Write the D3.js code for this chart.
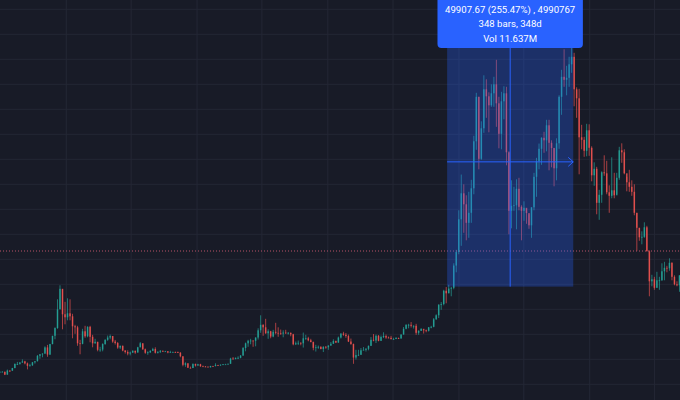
<!DOCTYPE html>
<html>
<head>
<meta charset="utf-8">
<script src="https://cdn.jsdelivr.net/npm/d3@7"></script>
<style>
  html, body { margin: 0; padding: 0; background: #181b27; }
  svg { display: block; }
</style>
</head>
<body>
<div id="chart"></div>
<script>
// Weekly candles: [high, low, close]; open = previous close
const w2017 = [ // from 2017-06-26
  [2600, 2350, 2500], [2640, 2480, 2505], [2530, 1840, 1930], [2950, 1910, 2750],
  [2790, 2450, 2730], [3290, 2660, 3250], [4190, 3200, 4060], [4480, 3850, 4080],
  [4450, 3920, 4350], [4980, 4300, 4580], [4700, 3990, 4180], [4350, 2980, 3700],
  [4100, 3550, 3790], [4470, 3700, 4400], [4650, 4140, 4610], [5850, 4580, 5700],
  [6050, 5110, 6010], [6200, 5400, 6140], [7600, 6100, 7380], [7880, 5500, 5950],
  [8100, 5860, 8040], [9700, 8000, 9700], [11400, 9000, 11250], [17000, 11100, 15000],
  [19800, 15000, 19100], [19000, 11000, 14000], [16500, 12000, 13400]
];
const w2018 = [ // from 2018-01-01
  [17200, 12800, 14200], [17000, 12800, 13600], [14100, 9200, 11600], [11900, 10100, 11400],
  [11700, 7700, 8200], [8900, 6000, 8100], [11100, 8000, 10600], [11700, 9300, 9600],
  [11600, 9400, 11500], [11700, 8400, 9500], [9900, 7400, 8200], [9100, 8100, 8500],
  [8500, 6600, 6900], [7500, 6500, 6950], [8200, 6600, 8050], [9000, 7900, 8900],
  [9750, 8700, 9350], [9950, 9000, 9650], [9650, 8300, 8550], [8880, 7950, 8250],
  [8450, 7100, 7350], [7750, 7050, 7700], [7750, 6600, 6750], [6850, 6150, 6450],
  [6800, 5800, 6150], [6550, 5780, 6350], [6800, 6250, 6700], [6750, 6100, 6350],
  [7500, 6350, 7400], [8450, 7400, 8200], [8200, 6900, 7000], [7150, 6100, 6300],
  [6600, 5900, 6400], [6800, 6250, 6700], [7300, 6650, 7050], [7400, 6150, 6300],
  [6600, 6150, 6500], [6850, 6250, 6700], [6750, 6450, 6600], [6700, 6500, 6600],
  [6650, 6200, 6350], [6700, 6350, 6450], [6550, 6400, 6450], [6550, 6300, 6420],
  [6550, 6250, 6300], [6450, 5400, 5600], [5600, 3600, 3900], [4400, 3500, 4200],
  [4200, 3300, 3300], [3550, 3200, 3250], [4200, 3250, 4050], [4150, 3550, 3750],
  [4100, 3700, 4000]
];
const w2019 = [ // from 2019-01-07
  [4100, 3500, 3600], [3750, 3500, 3550], [3650, 3450, 3530], [3550, 3380, 3410],
  [3700, 3350, 3660], [3700, 3550, 3640], [4200, 3600, 3850], [3900, 3700, 3820],
  [3950, 3700, 3930], [4050, 3850, 4000], [4100, 3950, 4000], [4150, 3950, 4100],
  [5300, 4100, 5150], [5450, 4950, 5050], [5350, 5000, 5300], [5600, 5050, 5300],
  [5850, 5200, 5750], [7450, 5700, 7250], [8350, 6600, 8200], [8900, 7500, 8700],
  [9100, 8000, 8750], [8800, 7500, 8700], [9400, 7600, 9350], [11200, 8950, 10800],
  [13800, 10300, 11900], [12000, 9700, 11400], [13100, 10100, 10200], [11000, 9100, 10600],
  [10700, 9200, 9550], [10900, 9400, 10500], [12300, 10000, 10300], [11400, 9500, 10200],
  [10950, 9900, 10150], [10800, 9400, 10350], [10900, 10100, 10300], [10450, 9950, 10300],
  [10350, 9600, 10000], [10100, 7800, 8000], [8550, 7850, 8200], [8750, 7850, 8300],
  [8400, 7800, 8200], [10350, 7350, 9200], [9900, 8900, 9200], [9500, 8600, 8800],
  [9100, 8400, 8450], [8550, 6800, 7300], [7900, 6550, 7400], [7750, 7100, 7500],
  [7600, 7000, 7050], [7600, 6450, 7500], [7650, 7100, 7400], [7800, 6900, 7750]
];
const w2020 = [ // from 2020-01-06
  [8450, 7700, 8100], [9000, 8100, 8650], [8750, 8250, 8350], [9550, 8300, 9350],
  [10200, 9150, 10150], [10500, 9700, 9900], [10250, 9300, 9650], [9950, 8450, 8550],
  [9150, 7900, 8050], [8150, 4100, 5350], [6900, 4950, 5850], [6900, 5650, 5900],
  [7250, 5900, 6800], [7450, 6800, 6900], [7250, 6550, 7100], [7750, 6800, 7700],
  [9450, 7650, 8900], [10050, 8600, 8750], [9950, 8250, 9700], [9850, 8600, 8700],
  [9750, 8650, 9450], [10400, 9250, 9650], [9950, 9100, 9350], [9550, 9200, 9300],
  [9700, 8950, 9050], [9300, 8950, 9050], [9450, 9050, 9250], [9350, 9050, 9150],
  [10000, 9150, 9950], [11450, 9950, 11100], [12000, 11000, 11900], [12100, 11200, 11900],
  [12450, 11350, 11700], [11800, 11150, 11700], [12100, 9900, 10300], [10800, 9900, 10700],
  [11200, 10650, 11100], [10900, 10150, 10800], [10950, 10400, 10700], [11450, 10550, 11400],
  [11700, 11200, 11500], [13250, 11400, 13000], [14000, 12900, 13800], [15950, 13250, 15950],
  [16450, 14900, 16050], [18900, 15800, 18700], [19450, 16200, 18200], [19900, 18200, 19150],
  [19450, 17600, 19300], [24200, 19000, 23750], [26900, 22400, 26450], [34800, 26000, 33000]
];
const w2021 = [ // from 2021-01-04
  [41950, 27700, 38200], [40000, 30300, 36000], [37800, 28800, 32300], [38500, 29300, 34300],
  [40900, 32300, 39200], [49700, 38000, 48600], [58300, 46900, 57500], [57500, 43000, 45100],
  [52600, 44900, 51200], [61800, 50300, 59000], [61000, 53300, 57600], [58400, 50400, 55800],
  [60000, 55500, 58200], [61500, 55500, 60000], [64900, 51500, 56200], [57500, 47200, 50100],
  [58500, 47000, 56600], [59600, 53000, 58200], [59500, 43800, 46400], [46600, 30000, 34700],
  [40800, 31200, 35700], [39500, 34700, 35800], [41000, 31000, 39100], [41300, 34800, 35500],
  [35800, 28800, 34700], [36600, 32700, 35300], [35100, 32100, 34250], [34000, 31100, 31800],
  [35400, 29300, 35400], [42300, 34800, 41500], [45300, 37500, 44600], [48150, 43000, 47100],
  [49400, 43900, 49300], [50500, 46300, 48800], [52900, 46600, 51800], [52900, 42800, 48300],
  [48800, 43400, 47250], [47300, 39600, 43200], [49200, 40800, 48200], [57800, 47100, 57500],
  [62900, 53900, 61500], [67000, 59500, 60900], [63700, 57800, 61300], [65500, 59500, 64000],
  [69000, 62300, 65500], [66300, 55600, 59000], [59400, 53300, 57200], [59100, 42000, 49400],
  [51900, 47000, 48900], [49500, 45500, 46700], [52100, 45600, 50800], [52000, 45700, 47300]
];
const w2022 = [ // from 2022-01-03
  [47600, 40600, 41800], [44400, 39700, 43100], [43500, 34000, 36300], [38900, 32900, 37900],
  [42600, 36300, 42400], [45800, 41700, 42200], [44700, 38000, 38400], [39800, 34300, 37700],
  [45400, 37200, 38800], [42300, 37200, 37800], [42300, 38100, 41300], [47500, 40900, 46800],
  [48200, 44300, 46400], [47000, 42000, 42200], [41500, 38600, 40400], [42900, 38500, 39500],
  [40800, 37700, 38500], [40000, 33800, 34300], [34300, 26700, 31300], [31300, 28700, 29400],
  [30600, 28000, 29500], [32400, 29300, 31400], [31700, 26600, 26600], [26800, 17600, 20600],
  [21900, 19600, 21000], [21500, 18900, 19300], [22500, 19300, 20800], [21500, 18900, 20800],
  [24200, 20700, 22600], [24500, 20800, 23300], [23700, 22400, 23200], [25200, 22700, 24300],
  [24400, 20800, 21500], [21800, 19800, 20000], [20600, 19600, 19800], [21800, 18500, 21800]
];
const yearStarts = ["2017-06-26", "2018-01-01", "2019-01-07", "2020-01-06", "2021-01-04", "2022-01-03"];
const firstOpen = 2430;

// axes / grid values
const xDomain = ["2017-06-30", "2022-09-10"];
const yDomain = [0, 75000];
const gridDates = ["2018-01-01", "2018-07-01", "2019-01-01", "2019-07-01", "2020-01-01",
  "2020-07-01", "2021-01-01", "2021-07-01", "2022-01-01", "2022-07-01"];
const gridPrices = d3.range(0, 75001, 5000);
const priceLine = 26660;

// measure tool
const measureDates = ["2020-11-29", "2021-11-16"];
const measurePrices = [19535.33, 69443];
const measureText = ["49907.67 (255.47%) , 4990767", "348 bars, 348d", "Vol 11.637M"];

// 1. Setup
const width = 680, height = 400;
const parse = d3.utcParse("%Y-%m-%d");
const svg = d3.select("#chart").append("svg")
  .attr("width", width).attr("height", height);

svg.append("rect").attr("width", width).attr("height", height).attr("fill", "#181b27");

const x = d3.scaleUtc().domain(xDomain.map(parse)).range([0, width]);
const y = d3.scaleLinear().domain(yDomain).range([384.3, 9.3]);

// 2. Build candles
const candles = [];
let prevClose = firstOpen;
[w2017, w2018, w2019, w2020, w2021, w2022].forEach((rows, k) => {
  const start = parse(yearStarts[k]);
  rows.forEach(([h, l, c], i) => {
    const date = d3.utcDay.offset(start, i * 7);
    candles.push({ date, open: prevClose, high: h, low: l, close: c });
    prevClose = c;
  });
});

// 3. Grid
svg.append("g").selectAll("line").data(gridPrices).join("line")
  .attr("x1", 0).attr("x2", width)
  .attr("y1", d => y(d)).attr("y2", d => y(d))
  .attr("stroke", "#242735").attr("stroke-width", 1);

svg.append("g").selectAll("line").data(gridDates.map(parse)).join("line")
  .attr("x1", d => x(d)).attr("x2", d => x(d))
  .attr("y1", 0).attr("y2", height)
  .attr("stroke", "#242735").attr("stroke-width", 1);

// 4. Candles
const up = "#26a69a", down = "#ef5350";
const cx = d => x(d3.utcHour.offset(d.date, 84));
const bodyW = (x(parse("2020-01-08")) - x(parse("2020-01-01"))) * 0.6;

const cg = svg.append("g");
cg.selectAll("line").data(candles).join("line")
  .attr("x1", cx).attr("x2", cx)
  .attr("y1", d => y(d.high)).attr("y2", d => y(d.low))
  .attr("stroke", d => d.close >= d.open ? up : down)
  .attr("stroke-width", 0.8)
  .attr("opacity", 0.85);

cg.selectAll("rect").data(candles).join("rect")
  .attr("x", d => cx(d) - bodyW / 2)
  .attr("width", bodyW)
  .attr("y", d => y(Math.max(d.open, d.close)))
  .attr("height", d => Math.max(0.8, Math.abs(y(d.open) - y(d.close))))
  .attr("fill", d => d.close >= d.open ? up : down)
  .attr("opacity", 0.85);

// 5. Price line (dotted)
svg.append("line")
  .attr("x1", 0).attr("x2", width)
  .attr("y1", y(priceLine)).attr("y2", y(priceLine))
  .attr("stroke", "#e0607a").attr("stroke-width", 1)
  .attr("stroke-dasharray", "1,2").attr("opacity", 0.8);

// 6. Measure tool
const mx0 = x(parse(measureDates[0])), mx1 = x(parse(measureDates[1]));
const my0 = y(measurePrices[0]), my1 = y(measurePrices[1]);
const mg = svg.append("g");
mg.append("rect")
  .attr("x", mx0).attr("y", my1)
  .attr("width", mx1 - mx0).attr("height", my0 - my1)
  .attr("fill", "#2962ff").attr("fill-opacity", 0.3);

const midX = (mx0 + mx1) / 2, midY = (my0 + my1) / 2;
mg.append("line").attr("x1", midX).attr("x2", midX).attr("y1", my1).attr("y2", my0)
  .attr("stroke", "#2962ff").attr("stroke-width", 1);
mg.append("line").attr("x1", mx0).attr("x2", mx1).attr("y1", midY).attr("y2", midY)
  .attr("stroke", "#2962ff").attr("stroke-width", 1);
mg.append("path")
  .attr("d", `M${mx1 - 5},${midY - 4.5}L${mx1},${midY}L${mx1 - 5},${midY + 4.5}`)
  .attr("fill", "none").attr("stroke", "#2962ff").attr("stroke-width", 1);

// label
const labelW = 145.4;
mg.append("rect")
  .attr("x", midX - labelW / 2).attr("y", -6)
  .attr("width", labelW).attr("height", 54)
  .attr("rx", 4)
  .attr("fill", "#2962ff");

mg.selectAll("text.lbl").data(measureText).join("text")
  .attr("class", "lbl")
  .attr("x", midX)
  .attr("y", (d, i) => 12.8 + i * 14.4)
  .attr("text-anchor", "middle")
  .attr("fill", "#ffffff")
  .attr("font-family", "Roboto, 'Noto Sans', sans-serif")
  .attr("font-size", "9.6px")
  .text(d => d);
</script>
</body>
</html>
